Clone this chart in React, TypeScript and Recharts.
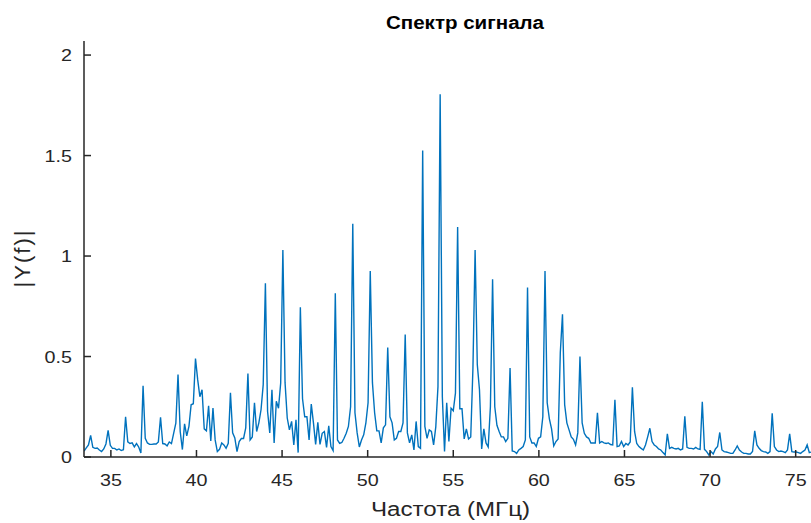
import React from 'react';
import { LineChart, Line, XAxis, YAxis } from 'recharts';

// Frequency grid (FFT bins): start frequency and bin width, MHz
const F0 = 33.435;
const DF = 0.1276;

// |Y(f)| values, one per bin (rows of 8 bins)
const AMPLITUDE: number[] = [
  0.03, 0.045, 0.06, 0.107, 0.048, 0.043, 0.045, 0.035,
  0.027, 0.04, 0.065, 0.132, 0.058, 0.043, 0.043, 0.035,
  0.04, 0.032, 0.036, 0.2, 0.075, 0.067, 0.07, 0.05,
  0.067, 0.05, 0.02, 0.355, 0.093, 0.07, 0.063, 0.063,
  0.065, 0.065, 0.075, 0.198, 0.067, 0.065, 0.055, 0.075,
  0.067, 0.118, 0.168, 0.41, 0.127, 0.037, 0.165, 0.105,
  0.152, 0.26, 0.265, 0.49, 0.385, 0.3, 0.335, 0.14,
  0.13, 0.255, 0.08, 0.243, 0.085, 0.027, 0.038, 0.07,
  0.06, 0.043, 0.068, 0.32, 0.12, 0.095, 0.027, 0.077,
  0.092, 0.092, 0.145, 0.415, 0.085, 0.1, 0.27, 0.127,
  0.17, 0.235, 0.36, 0.865, 0.226, 0.12, 0.335, 0.07,
  0.277, 0.243, 0.368, 1.03, 0.37, 0.194, 0.135, 0.177,
  0.06, 0.185, 0.022, 0.745, 0.29, 0.2, 0.2, 0.085,
  0.263, 0.17, 0.063, 0.172, 0.063, 0.118, 0.127, 0.048,
  0.155, 0.052, 0.032, 0.815, 0.085, 0.068, 0.072, 0.093,
  0.118, 0.152, 0.25, 1.16, 0.22, 0.12, 0.05, 0.085,
  0.11, 0.17, 0.27, 0.925, 0.37, 0.22, 0.13, 0.13,
  0.07, 0.145, 0.16, 0.545, 0.2, 0.17, 0.085, 0.093,
  0.127, 0.127, 0.17, 0.61, 0.12, 0.07, 0.11, 0.035,
  0.177, 0.052, 0.043, 1.525, 0.152, 0.093, 0.135, 0.127,
  0.06, 0.15, 0.35, 1.805, 0.3, 0.027, 0.27, 0.077,
  0.243, 0.23, 0.318, 1.145, 0.24, 0.24, 0.09, 0.14,
  0.09, 0.1, 0.44, 1.03, 0.46, 0.335, 0.04, 0.14,
  0.07, 0.05, 0.25, 0.885, 0.25, 0.158, 0.127, 0.1,
  0.1, 0.077, 0.093, 0.443, 0.03, 0.027, 0.018, 0.035,
  0.043, 0.052, 0.085, 0.843, 0.1, 0.07, 0.07, 0.052,
  0.093, 0.1, 0.2, 0.925, 0.27, 0.19, 0.14, 0.055,
  0.077, 0.09, 0.52, 0.71, 0.26, 0.17, 0.135, 0.1,
  0.088, 0.06, 0.12, 0.5, 0.17, 0.118, 0.1, 0.093,
  0.07, 0.07, 0.07, 0.22, 0.07, 0.077, 0.07, 0.067,
  0.07, 0.062, 0.06, 0.285, 0.052, 0.055, 0.077, 0.052,
  0.067, 0.06, 0.075, 0.347, 0.127, 0.067, 0.052, 0.043,
  0.035, 0.06, 0.1, 0.143, 0.077, 0.06, 0.052, 0.04,
  0.035, 0.022, 0.01, 0.115, 0.043, 0.048, 0.043, 0.04,
  0.043, 0.035, 0.04, 0.202, 0.048, 0.043, 0.043, 0.04,
  0.048, 0.04, 0.038, 0.275, 0.038, 0.027, 0.01, 0.027,
  0.015, 0.04, 0.052, 0.122, 0.035, 0.027, 0.025, 0.022,
  0.018, 0.018, 0.035, 0.055, 0.035, 0.025, 0.018, 0.018,
  0.015, 0.015, 0.027, 0.13, 0.06, 0.043, 0.032, 0.027,
  0.025, 0.018, 0.027, 0.218, 0.052, 0.035, 0.027, 0.03,
  0.027, 0.022, 0.035, 0.115, 0.027, 0.025, 0.025, 0.022,
  0.018, 0.027, 0.035, 0.06, 0.022, 0.025, 0.03, 0.03,
];

const X_DOMAIN: [number, number] = [33.43, 77.94];
const Y_DOMAIN: [number, number] = [0, 2.07];
const X_TICKS = [35, 40, 45, 50, 55, 60, 65, 70, 75];
const Y_TICKS = [0, 0.5, 1, 1.5, 2];

const TITLE = 'Спектр сигнала';
const X_LABEL = 'Частота (МГц)';
const Y_LABEL = '|Y(f)|';

const data = AMPLITUDE.map((a, i) => ({ f: F0 + i * DF, amp: a }));

const AXIS_COLOR = '#262626';
const LINE_COLOR = '#0072BD';
const FONT = '"Liberation Sans", Arial, sans-serif';
const TICK_LEN = 7;
const STRETCH = 1.16;

function BottomTick(props: any) {
  const { x, y, payload } = props;
  return (
    <g>
      <line x1={x} x2={x} y1={y} y2={y - TICK_LEN} stroke={AXIS_COLOR} strokeWidth={1.5} />
      <text
        transform={`translate(${x},${y + 29}) scale(${STRETCH},1)`}
        textAnchor="middle"
        fontFamily={FONT}
        fontSize={17}
        fill={AXIS_COLOR}
      >
        {String(payload.value)}
      </text>
    </g>
  );
}

function TopTick(props: any) {
  const { x, y } = props;
  return <line x1={x} x2={x} y1={y} y2={y + TICK_LEN} stroke={AXIS_COLOR} strokeWidth={1.5} />;
}

function LeftTick(props: any) {
  const { x, y, payload } = props;
  return (
    <g>
      <line x1={x} x2={x + TICK_LEN} y1={y} y2={y} stroke={AXIS_COLOR} strokeWidth={1.5} />
      <text
        transform={`translate(${x - 12},${y + 6}) scale(${STRETCH},1)`}
        textAnchor="end"
        fontFamily={FONT}
        fontSize={17}
        fill={AXIS_COLOR}
      >
        {String(payload.value)}
      </text>
    </g>
  );
}

export default function App() {
  const axisLine = { stroke: AXIS_COLOR, strokeWidth: 1.5 };
  return (
    <div
      style={{
        position: 'absolute',
        left: 0,
        top: 0,
        width: 811,
        height: 523,
        overflow: 'hidden',
        background: '#ffffff',
      }}
    >
      <LineChart width={856} height={523} data={data} margin={{ top: 41, right: 10, bottom: 0, left: 0 }}>
        <XAxis
          xAxisId="top"
          orientation="top"
          type="number"
          dataKey="f"
          domain={X_DOMAIN}
          ticks={X_TICKS}
          interval={0}
          height={0}
          tickSize={0}
          tickMargin={0}
          tickLine={false}
          axisLine={axisLine}
          tick={<TopTick />}
          allowDataOverflow
        />
        <XAxis
          xAxisId="bottom"
          orientation="bottom"
          type="number"
          dataKey="f"
          domain={X_DOMAIN}
          ticks={X_TICKS}
          interval={0}
          height={66}
          tickSize={0}
          tickMargin={0}
          tickLine={false}
          axisLine={axisLine}
          tick={<BottomTick />}
          allowDataOverflow
        />
        <YAxis
          yAxisId="left"
          type="number"
          domain={Y_DOMAIN}
          ticks={Y_TICKS}
          interval={0}
          width={84}
          tickSize={0}
          tickMargin={0}
          tickLine={false}
          axisLine={axisLine}
          tick={<LeftTick />}
          allowDataOverflow
        />
        <Line
          xAxisId="bottom"
          yAxisId="left"
          type="linear"
          dataKey="amp"
          stroke={LINE_COLOR}
          strokeWidth={1.4}
          dot={false}
          activeDot={false}
          isAnimationActive={false}
        />
      </LineChart>
      <svg
        width={811}
        height={523}
        style={{ position: 'absolute', left: 0, top: 0, pointerEvents: 'none' }}
      >
        <text
          x={386}
          y={29}
          textLength={158}
          lengthAdjust="spacingAndGlyphs"
          fontFamily={FONT}
          fontWeight="bold"
          fontSize={17.5}
          fill="#000000"
        >
          {TITLE}
        </text>
        <text
          x={371}
          y={516}
          textLength={159}
          lengthAdjust="spacingAndGlyphs"
          fontFamily={FONT}
          fontSize={20}
          fill={AXIS_COLOR}
        >
          {X_LABEL}
        </text>
        <text
          transform="translate(30,258) rotate(-90)"
          textAnchor="middle"
          fontFamily={FONT}
          fontSize={22}
          letterSpacing={2}
          fill={AXIS_COLOR}
        >
          {Y_LABEL}
        </text>
      </svg>
    </div>
  );
}
